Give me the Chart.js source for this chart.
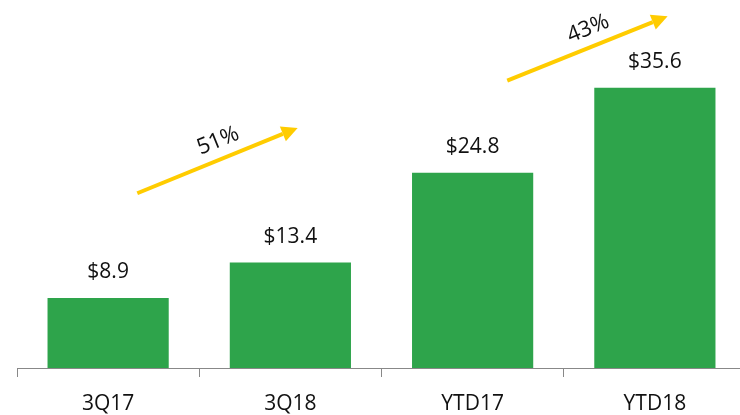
<!DOCTYPE html>
<html>
<head>
<meta charset="utf-8">
<script src="https://cdn.jsdelivr.net/npm/chart.js@4"></script>
<style>
  html, body { margin: 0; padding: 0; background: #fff; overflow: hidden; }
  #wrap { width: 746px; height: 415px; }
</style>
</head>
<body>
<div id="wrap"><canvas id="chart"></canvas></div>
<script>
// Chart data
const categories = ['3Q17', '3Q18', 'YTD17', 'YTD18'];
const values = [8.9, 13.4, 24.8, 35.6];
const valueLabels = ['$8.9', '$13.4', '$24.8', '$35.6'];

// Growth arrows: [x, y] in category / value units
const growthLabels = ['51%', '43%'];
const growthFrom = [[0.16, 22.2], [2.19, 36.5]];
const growthTo = [[1.04, 30.5], [3.07, 44.7]];

const FONT = '"Open Sans", "Noto Sans", sans-serif';

// Value labels above each bar
const valueLabelPlugin = {
  id: 'valueLabels',
  afterDatasetsDraw(chart) {
    const ctx = chart.ctx;
    const meta = chart.getDatasetMeta(0);
    ctx.save();
    ctx.fillStyle = '#111';
    ctx.font = '21px ' + FONT;
    ctx.textAlign = 'center';
    ctx.textBaseline = 'bottom';
    meta.data.forEach((bar, i) => {
      ctx.fillText(valueLabels[i], bar.x, bar.y - 15);
    });
    ctx.restore();
  }
};

// Yellow growth arrows with rotated percentage text
const arrowPlugin = {
  id: 'growthArrows',
  afterDatasetsDraw(chart) {
    const ctx = chart.ctx;
    const xs = chart.scales.x, ys = chart.scales.y;
    const step = xs.getPixelForValue(1) - xs.getPixelForValue(0);
    const px = v => xs.getPixelForValue(0) + v * step;
    ctx.save();
    growthLabels.forEach((lbl, i) => {
      const x1 = px(growthFrom[i][0]), y1 = ys.getPixelForValue(growthFrom[i][1]);
      const x2 = px(growthTo[i][0]), y2 = ys.getPixelForValue(growthTo[i][1]);
      const ang = Math.atan2(y2 - y1, x2 - x1);
      const head = 16;
      const bx = x2 - head * Math.cos(ang), by = y2 - head * Math.sin(ang);
      ctx.strokeStyle = '#FFCC00';
      ctx.fillStyle = '#FFCC00';
      ctx.lineWidth = 4;
      ctx.beginPath();
      ctx.moveTo(x1, y1);
      ctx.lineTo(bx, by);
      ctx.stroke();
      ctx.beginPath();
      ctx.moveTo(x2, y2);
      ctx.lineTo(bx + 8 * Math.sin(ang), by - 8 * Math.cos(ang));
      ctx.lineTo(bx - 8 * Math.sin(ang), by + 8 * Math.cos(ang));
      ctx.closePath();
      ctx.fill();
      // percentage label
      const mx = (x1 + x2) / 2, my = (y1 + y2) / 2;
      ctx.translate(mx, my);
      ctx.rotate(ang);
      ctx.fillStyle = '#111';
      ctx.font = '22px ' + FONT;
      ctx.textAlign = 'center';
      ctx.textBaseline = 'bottom';
      ctx.fillText(lbl, 8, -7);
      ctx.setTransform(1, 0, 0, 1, 0, 0);
    });
    ctx.restore();
  }
};

const ctx = document.getElementById('chart').getContext('2d');
new Chart(ctx, {
  type: 'bar',
  data: {
    labels: categories,
    datasets: [{
      data: values,
      backgroundColor: '#2EA44B',
      categoryPercentage: 0.665,
      barPercentage: 1.0
    }]
  },
  options: {
    responsive: true,
    maintainAspectRatio: false,
    animation: false,
    layout: { padding: { left: 17, right: 0, top: 0, bottom: 0 } },
    plugins: {
      legend: { display: false },
      tooltip: { enabled: false }
    },
    scales: {
      x: {
        afterFit(scale) { scale.height = 47; },
        grid: {
          offset: true,
          drawOnChartArea: false,
          drawTicks: true,
          tickLength: 9,
          color: '#888'
        },
        border: { color: '#888', width: 1 },
        ticks: {
          color: '#111',
          font: { family: FONT, size: 21 },
          padding: 14
        }
      },
      y: {
        display: false,
        min: 0,
        max: 46.75
      }
    }
  },
  plugins: [valueLabelPlugin, arrowPlugin]
});
</script>
</body>
</html>
